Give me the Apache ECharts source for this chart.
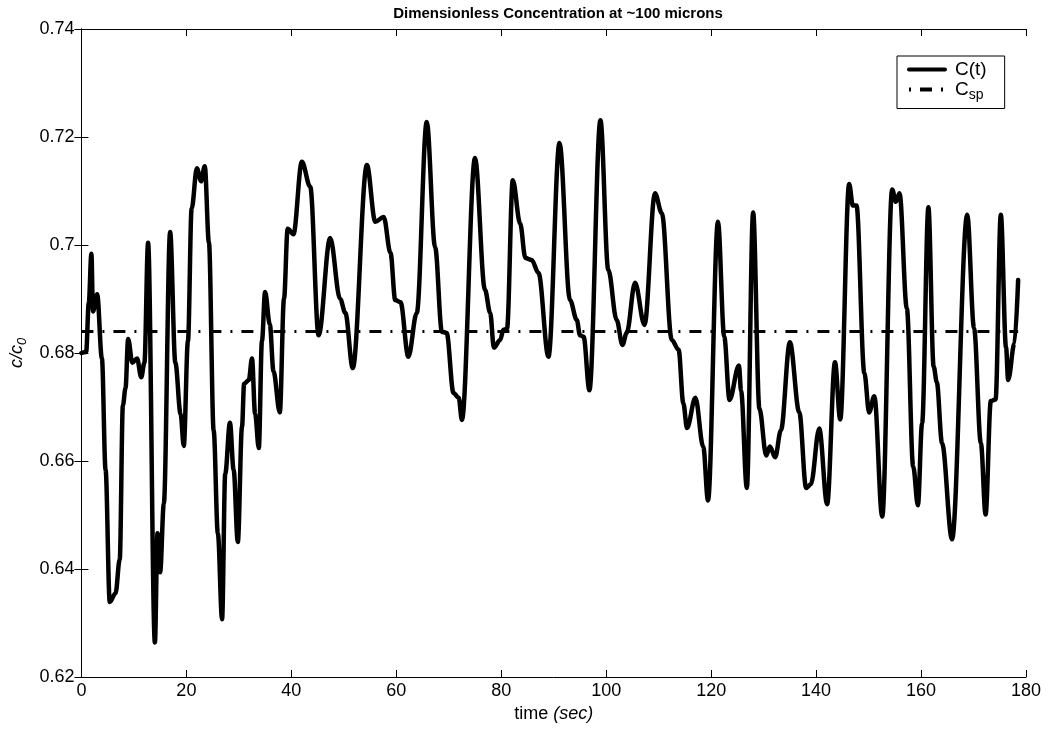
<!DOCTYPE html>
<html><head><meta charset="utf-8">
<script src="https://cdn.jsdelivr.net/npm/echarts@6/dist/echarts.min.js"></script>
<style>html,body{margin:0;padding:0;background:#fff}#c{width:1052px;height:731px}</style>
</head><body><div id="c"></div>
<script>
const timeSec = [0.0,0.9,1.4,1.9,2.2,3.0,3.9,4.6,5.4,6.5,7.3,7.9,8.4,8.9,9.7,10.6,11.4,12.0,12.7,14.0,14.5,15.0,15.7,16.9,17.9,18.9,19.5,20.3,21.0,22.0,22.8,23.5,24.3,25.2,26.0,26.8,27.4,28.3,29.0,29.8,30.6,31.0,31.9,32.5,33.1,33.8,34.4,35.0,35.9,36.6,37.8,38.6,39.3,40.4,42.0,43.6,45.2,47.4,49.3,50.3,51.7,54.4,56.0,57.6,58.9,59.8,60.8,62.3,63.9,65.8,67.4,68.7,69.6,70.9,71.9,72.5,75.0,76.9,77.9,78.6,79.8,80.4,81.1,82.2,83.6,84.6,85.8,87.1,89.0,91.1,93.1,94.4,95.0,95.7,96.8,98.9,100.4,102.0,103.1,103.9,105.5,107.3,109.3,110.6,112.5,113.8,114.7,115.4,117.0,118.5,119.4,121.3,122.5,123.5,125.3,125.7,126.8,128.0,129.2,130.5,131.2,132.2,133.3,135.0,136.8,138.1,139.0,140.6,142.1,143.6,144.6,146.3,147.0,147.7,149.2,150.1,151.1,152.6,154.5,155.2,155.9,157.3,158.5,159.4,160.2,161.4,162.4,163.0,164.0,165.9,168.8,170.1,171.4,172.3,173.3,174.2,175.2,176.2,176.6,177.8,178.5];
const conc = [0.680,0.6802,0.6893,0.6984,0.6877,0.6909,0.679,0.6584,0.6339,0.6355,0.6418,0.6703,0.6735,0.6826,0.6782,0.679,0.6755,0.6782,0.7004,0.6264,0.6466,0.6394,0.6521,0.7024,0.6782,0.6687,0.6628,0.6822,0.7067,0.7142,0.7118,0.7146,0.7004,0.6656,0.6466,0.6307,0.6576,0.6671,0.6584,0.645,0.6663,0.6743,0.675,0.679,0.6687,0.6624,0.6822,0.6913,0.6853,0.6766,0.669,0.690,0.703,0.702,0.7154,0.7108,0.6833,0.7013,0.690,0.6874,0.6772,0.7148,0.7043,0.7052,0.6985,0.6898,0.6894,0.6793,0.6874,0.7228,0.6996,0.6839,0.6837,0.6726,0.6717,0.6676,0.7161,0.6917,0.6874,0.681,0.6824,0.6843,0.6845,0.712,0.704,0.6976,0.6972,0.6948,0.6793,0.7189,0.6898,0.6861,0.6833,0.683,0.6731,0.7231,0.6954,0.6861,0.6815,0.6837,0.693,0.6852,0.7096,0.7059,0.6824,0.6806,0.6707,0.6661,0.6717,0.6626,0.6527,0.7043,0.683,0.6713,0.6777,0.673,0.655,0.706,0.6697,0.661,0.6627,0.6607,0.6657,0.682,0.669,0.655,0.6557,0.666,0.652,0.6783,0.6677,0.7113,0.7073,0.7073,0.6763,0.669,0.672,0.6497,0.7103,0.708,0.7096,0.6882,0.659,0.6518,0.667,0.707,0.6775,0.6746,0.6633,0.6455,0.7056,0.6846,0.6633,0.6501,0.6711,0.6714,0.7056,0.681,0.675,0.6818,0.6935];
const setpointValue = 0.684;
const setpointTime = [0, 178.5];
const xTickLabels = ['0','20','40','60','80','100','120','140','160','180'];
const yTickLabels = ['0.62','0.64','0.66','0.68','0.7','0.72','0.74'];

const chart = echarts.init(document.getElementById('c'));
const FONT = 'Liberation Sans, Arial, Helvetica, sans-serif';
const lineData = timeSec.map((t, i) => [t, conc[i]]);
const spData = setpointTime.map(t => [t, setpointValue]);
const tickStyle = {show: true, inside: true, length: 7, lineStyle: {color: '#000', width: 1}};
chart.setOption({
  animation: false,
  backgroundColor: '#fff',
  title: {
    text: 'Dimensionless Concentration at ~100 microns',
    left: 553, top: 1, textAlign: 'center',
    textStyle: {fontFamily: FONT, fontSize: 15, fontWeight: 'bold', color: '#000'}
  },
  grid: {left: 81, right: 26, top: 29, bottom: 54},
  legend: {
    orient: 'vertical', left: 897, top: 56,
    backgroundColor: '#fff', borderColor: '#000', borderWidth: 1, borderRadius: 0,
    padding: [4, 18, 6, 10], itemGap: 1, itemWidth: 36, itemHeight: 20,
    itemStyle: {opacity: 0},
    data: [
      {name: 'C(t)', lineStyle: {width: 4, type: 'solid'}},
      {name: 'Csp', lineStyle: {width: 4, type: [2, 9, 12, 9, 2, 20]}}
    ],
    formatter: n => n === 'Csp' ? '{a|C}{b|sp}' : '{a|C(t)}',
    textStyle: {
      fontFamily: FONT, color: '#000',
      rich: {
        a: {fontFamily: FONT, fontSize: 19, color: '#000', padding: [0, 0, 0, 5]},
        b: {fontFamily: FONT, fontSize: 14, color: '#000', padding: [12, 0, 0, 0]}
      }
    }
  },
  xAxis: [{
    type: 'value', min: 0, max: 180, interval: 20,
    axisLine: {lineStyle: {color: '#000', width: 1}},
    axisTick: tickStyle, splitLine: {show: false},
    axisLabel: {fontFamily: FONT, fontSize: 18, color: '#000', margin: 5,
      formatter: v => xTickLabels[Math.round(v / 20)]},
    name: '{n|time }{i|(sec)}', nameLocation: 'middle', nameGap: 25,
    nameTextStyle: {rich: {
      n: {fontFamily: FONT, fontSize: 18, color: '#000'},
      i: {fontFamily: FONT, fontSize: 18, color: '#000', fontStyle: 'italic'}
    }}
  }, {
    type: 'value', position: 'top', min: 0, max: 180, interval: 20,
    axisLine: {show: true, lineStyle: {color: '#000', width: 1}},
    axisTick: tickStyle, axisLabel: {show: false}, splitLine: {show: false}
  }],
  yAxis: [{
    type: 'value', min: 0.62, max: 0.74, interval: 0.02,
    axisLine: {show: true, lineStyle: {color: '#000', width: 1}},
    axisTick: tickStyle, splitLine: {show: false},
    axisLabel: {fontFamily: FONT, fontSize: 18, color: '#000', margin: 7,
      formatter: v => yTickLabels[Math.round((v - 0.62) / 0.02)]},
    name: '{i|c/c}{s|0}', nameLocation: 'middle', nameGap: 49, nameRotate: 90,
    nameTextStyle: {rich: {
      i: {fontFamily: FONT, fontSize: 18, color: '#000', fontStyle: 'italic'},
      s: {fontFamily: FONT, fontSize: 13, color: '#000', fontStyle: 'italic', padding: [10, 0, 0, 0]}
    }}
  }, {
    type: 'value', position: 'right', min: 0.62, max: 0.74, interval: 0.02,
    axisLine: {show: true, lineStyle: {color: '#000', width: 1}},
    axisTick: tickStyle, axisLabel: {show: false}, splitLine: {show: false}
  }],
  series: [{
    name: 'C(t)', type: 'line', data: lineData, showSymbol: false, symbol: 'none',
    smooth: 0.35, smoothMonotone: 'x',
    lineStyle: {color: '#000', width: 4.5, join: 'round', cap: 'round'},
    itemStyle: {color: '#000'}, z: 3
  }, {
    name: 'Csp', type: 'line', data: spData, showSymbol: false, symbol: 'none',
    lineStyle: {color: '#000', width: 3, type: [12, 9, 2, 9]},
    itemStyle: {color: '#000'}, z: 2
  }]
});
</script>
</body></html>
